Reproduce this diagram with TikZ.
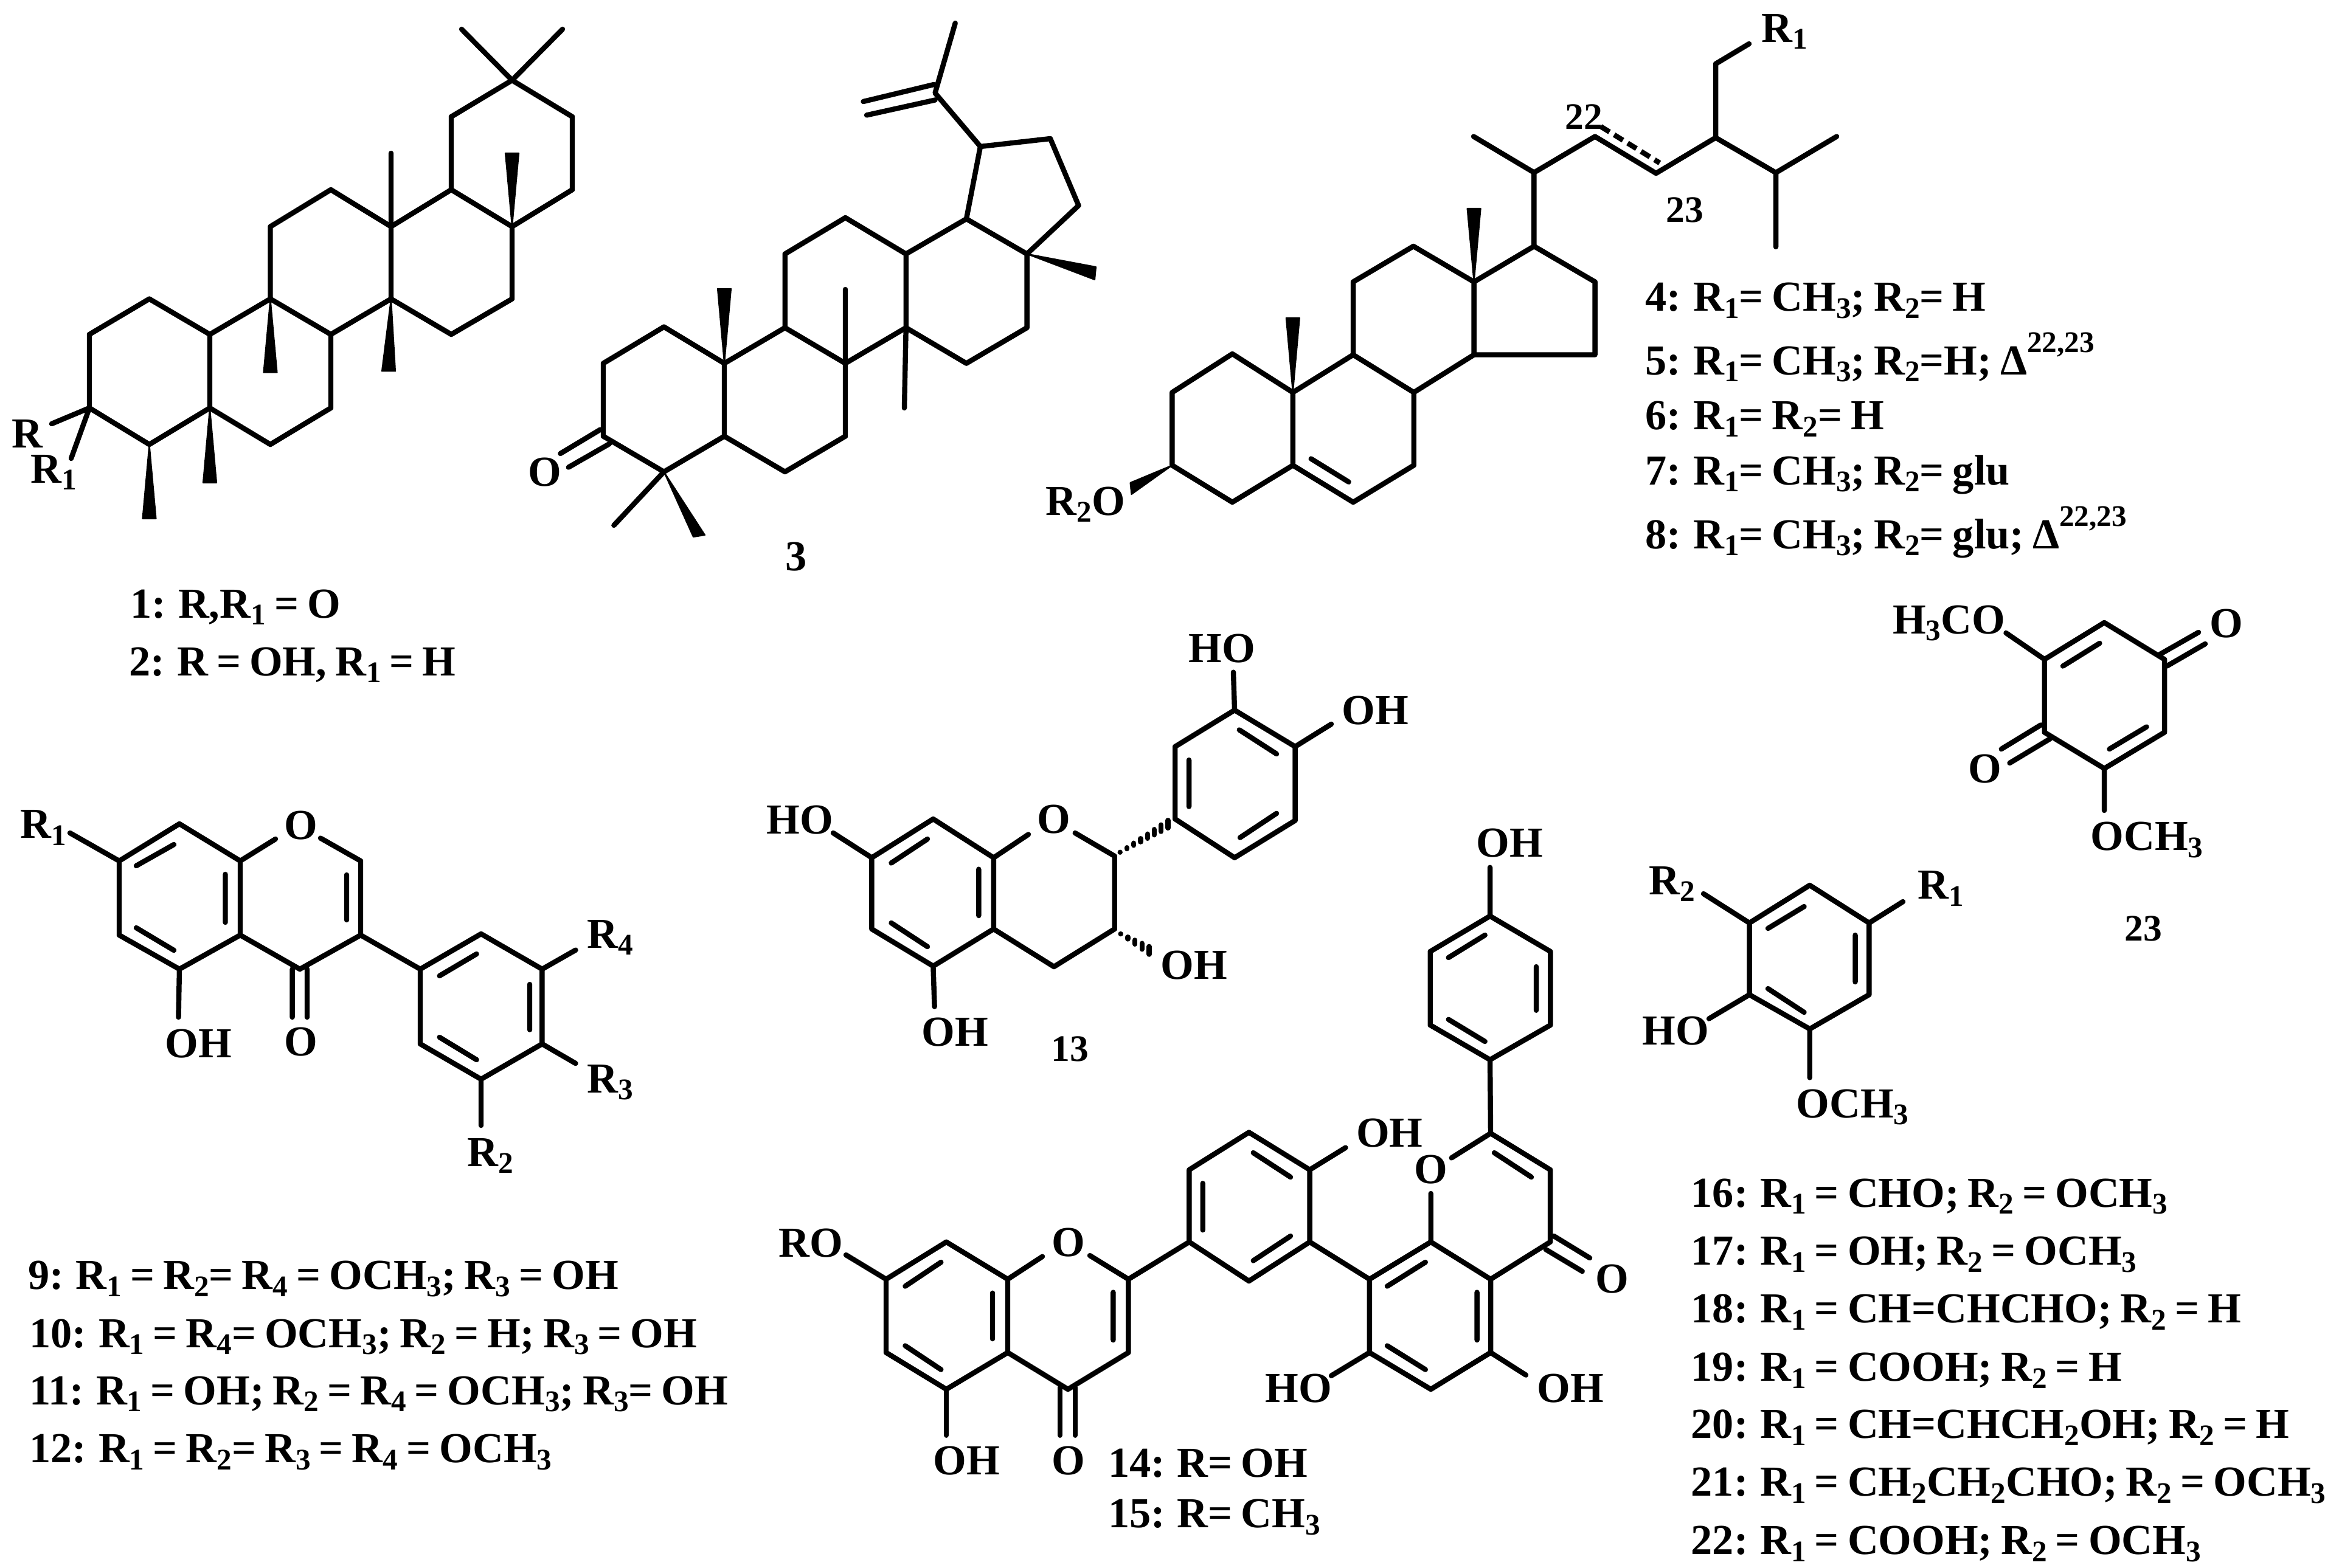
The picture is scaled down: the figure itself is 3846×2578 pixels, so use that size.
\documentclass[tikz,border=0pt]{standalone}
\usepackage{fontspec}
\setmainfont[WordSpace=0.8]{Liberation Serif}
\newcommand{\lo}[1]{\raisebox{-0.17em}{\fontsize{14}{14}\selectfont #1}}
\newcommand{\hi}[1]{\raisebox{0.52em}{\fontsize{14}{14}\selectfont #1}}
\tikzset{
	bond/.style={line width=2.4pt, line join=round, line cap=round},
	wedgeb/.style={fill=black, draw=black, line width=0.6pt, line join=round},
	lab/.style={inner sep=0pt, anchor=base west, font=\fontsize{20}{24}\selectfont\bfseries},
	atom/.style={inner sep=0pt, anchor=center, font=\fontsize{20}{24}\selectfont\bfseries},
	numb/.style={inner sep=0pt, anchor=base west, font=\fontsize{17.5}{20}\selectfont\bfseries}
}
\begin{document}
\begin{tikzpicture}[x=0.01cm, y=-0.01cm]
	\useasboundingbox (0,0) rectangle (3846,2578);
	\draw[bond] (147,671)--(147,550)--(245.5,491.6)--(345,550)--(345,671)--(245.5,731)--cycle;
	\draw[bond] (345,550)--(444.5,491.6)--(544,550)--(544,671)--(444.5,731)--(345,671);
	\draw[bond] (444.5,491.6)--(444.5,372.7)--(544,312)--(643,372.7)--(643,491.6)--(544,550);
	\draw[bond] (643,491.6)--(742,550)--(842,491.6)--(842,372.7)--(742,312)--(643,372.7);
	\draw[bond] (742,312)--(742,192)--(842,132)--(941,192)--(941,312)--(842,372.7);
	\draw[bond] (759,48)--(842,132)--(925,48) (643,372.7)--(643,252) (147,671)--(85,697) (147,671)--(117,754);
	\foreach \tx/\ty/\bx/\by in {842/372.7/842/252, 444.5/491.6/444.5/612.6, 643/491.6/639/610.4, 345/671/345/794, 245.5/731/245.5/853}
		\fill[wedgeb] (\tx,\ty)--(\bx-11,\by)--(\bx+11,\by)--cycle;
	\node[lab] (rA) at (19,736) {R};
	\node[lab] (rB) at (50,794) {R\lo{1}};
	\node[lab] (nA) at (214,1016) {1: R,R\lo{1} = O};
	\node[lab] (nB) at (212,1111) {2: R = OH, R\lo{1} = H};

	\draw[bond] (992,597.6)--(992,717.5)--(1091.7,776)--(1191,717.5)--(1191,597.6)--(1091.7,537.6)--cycle;
	\draw[bond] (1191,597.6)--(1290.7,539)--(1390,597.6)--(1390,717.5)--(1290.7,776)--(1191,717.5);
	\draw[bond] (1290.7,539)--(1290.7,417.7)--(1390,358)--(1489.7,417.7)--(1489.7,539)--(1390,597.6);
	\draw[bond] (1489.7,539)--(1589,597.6)--(1688.6,539)--(1688.6,417.7)--(1589,360)--(1489.7,417.7);
	\draw[bond] (1589,360)--(1612,241)--(1727,228)--(1773.5,338)--(1688.6,417.7);
	\draw[bond] (1612,241)--(1537.5,153)--(1570.7,38) (1535.6,139)--(1419.5,167) (1537.5,164.5)--(1425,189.4);
	\draw[bond] (1390,597.6)--(1390,476) (1489.7,539)--(1487,671) (1091.7,776)--(1009.4,864);
	\draw[bond] (987,706.6)--(921.4,746) (1002,730)--(934.8,768.5);
	\fill[wedgeb] (1191,597.6)--(1180,475)--(1202,475)--cycle;
	\fill[wedgeb] (1688.6,417.7)--(1802,439)--(1800,460)--cycle;
	\fill[wedgeb] (1091.7,776)--(1140,883)--(1159,880)--cycle;
	\node[atom] (oC) at (896,777) {O};
	\node[atom] (nC) at (1309,916) {3};

	\draw[bond] (1927.4,645.4)--(1927.4,765.3)--(2026.3,826)--(2125.8,765.3)--(2125.8,645.4)--(2026.3,582)--cycle;
	\draw[bond] (2125.8,645.4)--(2225,583.5)--(2324.7,645.4)--(2324.7,765.3)--(2225,826)--(2125.8,765.3);
	\draw[bond] (2155.7,754.5)--(2217.6,792.7);
	\draw[bond] (2225,583.5)--(2225,463.6)--(2324,405)--(2423.6,463.6)--(2423.6,583.5)--(2324.7,645.4);
	\draw[bond] (2423.6,463.6)--(2522.4,405)--(2622.6,463.6)--(2622.6,583.5)--(2423.6,583.5);
	\draw[bond] (2522.4,405)--(2522.4,283.8)--(2423,224.5) (2522.4,283.8)--(2622.6,224.5)--(2723,285)--(2821,226.4)--(2821,105)--(2876,72);
	\draw[bond] (2821,226.4)--(2920,284)--(3020,224.5) (2920,284)--(2920,406);
	\draw[line width=2.4pt, dash pattern=on 0.17cm off 0.09cm] (2632,208)--(2729,268);
	\fill[wedgeb] (2423.6,463.6)--(2412.6,343)--(2434.6,343)--cycle;
	\fill[wedgeb] (2125.8,645.4)--(2114.8,523)--(2136.8,523)--cycle;
	\fill[wedgeb] (1927.4,765.3)--(1858.5,794)--(1860.5,813)--cycle;
	\node[lab] (rC) at (1719,847) {R\lo{2}O};
	\node[numb] (nD) at (2573,212) {22};
	\node[numb] (nE) at (2739,365) {23};
	\node[lab] (rD) at (2896,69) {R\lo{1}};
	\foreach \n/\y/\t in {4/511.5/{4: R\lo{1}= CH\lo{3}; R\lo{2}= H},
		5/616/{5: R\lo{1}= CH\lo{3}; R\lo{2}=H; Δ\hi{22,23}},
		6/706.6/{6: R\lo{1}= R\lo{2}= H},
		7/797/{7: R\lo{1}= CH\lo{3}; R\lo{2}= glu},
		8/902/{8: R\lo{1}= CH\lo{3}; R\lo{2}= glu; Δ\hi{22,23}}}
		\node[lab] (st\n) at (2705,\y) {\t};

	\draw[bond] (115,1370)--(196,1416)--(196,1538)--(295,1594)--(395,1538)--(395,1416)--(295,1355)--(196,1416);
	\draw[bond] (224,1424)--(286,1389) (224,1526)--(286,1563) (370.5,1438)--(370.5,1517);
	\draw[bond] (395,1416)--(453,1380) (527,1378.5)--(593,1416)--(593,1538)--(493,1594)--(395,1538) (570,1439)--(570,1513);
	\draw[bond] (480.6,1594)--(480.6,1673) (505,1594)--(505,1673) (295,1594)--(293.5,1673);
	\draw[bond] (691,1594)--(791,1536)--(891.4,1594)--(891.4,1717)--(791,1775)--(691,1717)--cycle;
	\draw[bond] (593,1538)--(691,1594);
	\draw[bond] (722.7,1605)--(783.6,1569) (871,1619)--(871,1693.6) (722.7,1706)--(783.6,1743);
	\draw[bond] (891.4,1594)--(946.5,1562.6) (891.4,1717)--(946.5,1749) (791,1775)--(791,1851);
	\node[lab] (rE) at (33,1378.5) {R\lo{1}};
	\node[atom] (oE) at (495,1358) {O};
	\node[atom] (oF) at (495,1714) {O};
	\node[lab] (hE) at (271,1739) {OH};
	\node[lab] (rF) at (965,1559) {R\lo{4}};
	\node[lab] (rG) at (965,1797) {R\lo{3}};
	\node[lab] (rH) at (768,1918) {R\lo{2}};
	\foreach \n/\x/\y/\t in {9/45.5/2120.7/{9: R\lo{1} = R\lo{2}= R\lo{4} = OCH\lo{3}; R\lo{3} = OH},
		10/47.7/2216/{10: R\lo{1} = R\lo{4}= OCH\lo{3}; R\lo{2} = H; R\lo{3} = OH},
		11/47.7/2310/{11: R\lo{1} = OH; R\lo{2} = R\lo{4} = OCH\lo{3}; R\lo{3}= OH},
		12/47.7/2405/{12: R\lo{1} = R\lo{2}= R\lo{3} = R\lo{4} = OCH\lo{3}}}
		\node[lab] (is\n) at (\x,\y) {\t};

	\draw[bond] (1370,1370)--(1433.4,1410.7)--(1433.4,1528)--(1534.4,1589)--(1633.8,1528)--(1633.8,1410.7)--(1534.4,1347)--(1433.4,1410.7);
	\draw[bond] (1465.5,1419.4)--(1525,1380) (1465.5,1518)--(1525,1557) (1609.3,1429.6)--(1609.3,1506);
	\draw[bond] (1534.4,1589)--(1536.6,1655.6) (1633.8,1410.7)--(1691,1372.4);
	\draw[bond] (1767.7,1370)--(1832.7,1408)--(1832.7,1528)--(1733,1590)--(1633.8,1528);
	\draw[bond] (1932.2,1347)--(1932.2,1228)--(2030,1168)--(2129.6,1228)--(2129.6,1349.5)--(2030,1410.7)--cycle;
	\draw[bond] (1955,1250)--(1955,1326.5) (2037.8,1200.5)--(2099,1240) (2039,1377.6)--(2099,1337.8);
	\draw[bond] (2030,1168)--(2028,1105.6) (2129.6,1228)--(2189,1191);
	\foreach \k in {0,...,7}
		\draw[bond] (1841.7+11.25*\k,1401.7-6.6*\k-0.9*\k)--(1841.7+11.25*\k,1401.7-6.6*\k+0.9*\k);
	\foreach \k in {0,...,4}
		\draw[bond] (1842.7+11.7*\k,1536+6.8*\k-1.6*\k)--(1842.7+11.7*\k,1536+6.8*\k+1.6*\k);
	\node[lab] (hF) at (1259.7,1371) {HO};
	\node[lab] (hG) at (1515,1720) {OH};
	\node[atom] (oG) at (1733,1348) {O};
	\node[lab] (hH) at (1907.7,1610) {OH};
	\node[lab] (hI) at (1953.6,1089) {HO};
	\node[lab] (hJ) at (2206,1191) {OH};
	\node[numb] (nF) at (1728,1745) {13};

	\draw[bond] (1391,2064)--(1457,2104)--(1457,2224.6)--(1556,2285)--(1657,2224.6)--(1657,2104)--(1556,2042.7)--(1457,2104);
	\draw[bond] (1488.4,2115.5)--(1547.3,2076) (1488.4,2213.4)--(1547.3,2252.6) (1632,2126.7)--(1632,2202);
	\draw[bond] (1657,2104)--(1714,2066.7) (1792,2065)--(1855.4,2104)--(1855.4,2224.6)--(1756,2285)--(1657,2224.6) (1830.4,2125.5)--(1830.4,2204);
	\draw[bond] (1743,2282)--(1743,2360.7) (1768,2282)--(1768,2360.7) (1556,2285)--(1556,2360.7);
	\draw[bond] (1855.4,2104)--(1955.4,2042.7)--(1955.4,1924)--(2053.6,1862.4)--(2153.6,1924)--(2153.6,2042.7)--(2053.6,2107)--(1955.4,2042.7);
	\draw[bond] (1977.7,1946.4)--(1977.7,2023) (2060.7,1896)--(2122,1936) (2060.7,2073.5)--(2122,2033);
	\draw[bond] (2153.6,1924)--(2212.5,1887.6) (2153.6,2042.7)--(2251.8,2104);
	\draw[bond] (2251.8,2104)--(2352.7,2042.7)--(2451,2104)--(2451,2224.6)--(2352.7,2285)--(2251.8,2224.6)--cycle;
	\draw[bond] (2281,2115.5)--(2343.8,2076) (2428.6,2125.5)--(2428.6,2204) (2281,2213.4)--(2343.8,2252.6);
	\draw[bond] (2352.7,2042.7)--(2352.7,1963) (2251.8,2224.6)--(2189,2262.7) (2451,2224.6)--(2509,2261.6);
	\draw[bond] (2386.7,1904.4)--(2451,1864)--(2549,1924)--(2549,2042.7)--(2451,2104) (2457,1896)--(2518,1936);
	\draw[bond] (2555,2033)--(2614,2069) (2541.7,2055)--(2601.7,2091) (2451,1864)--(2450,1743);
	\draw[bond] (2450,1506.7)--(2351.7,1565)--(2351.7,1686)--(2450,1743)--(2549.3,1686)--(2549.3,1565)--cycle;
	\draw[bond] (2381.7,1575)--(2441.7,1538) (2526,1590)--(2526,1661.7) (2381.7,1676.7)--(2441.7,1713) (2450,1506.7)--(2450,1426.7);
	\node[lab] (rI) at (1279.5,2067) {RO};
	\node[atom] (oH) at (1757,2044) {O};
	\node[atom] (oI) at (1757,2402.7) {O};
	\node[lab] (hK) at (1534,2425) {OH};
	\node[lab] (hL) at (2229.5,1886.5) {OH};
	\node[atom] (oJ) at (2352.7,1924) {O};
	\node[lab] (hM) at (2080,2306.4) {HO};
	\node[lab] (hN) at (2526.8,2306) {OH};
	\node[atom] (oK) at (2650.7,2104) {O};
	\node[lab] (hO) at (2426.7,1409) {OH};
	\node[lab] (nG) at (1821.4,2429.6) {14: R= OH};
	\node[lab] (nH) at (1821.4,2512) {15: R= CH\lo{3}};

	\draw[bond] (3361.7,1084.5)--(3460,1024)--(3559,1084.5)--(3559,1204.5)--(3460,1264)--(3361.7,1204.5)--cycle;
	\draw[bond] (3392,1095.5)--(3452.4,1058) (3468.5,1232)--(3529.5,1195.5) (3361.7,1084.5)--(3298.4,1041) (3460,1264)--(3460,1333);
	\draw[bond] (3550,1077)--(3615,1040) (3563,1095.5)--(3626,1059) (3355.6,1192.4)--(3290.7,1232) (3371,1215)--(3304.5,1255);
	\node[lab] (mA) at (3111.5,1042) {H\lo{3}CO};
	\node[atom] (oL) at (3660.7,1026) {O};
	\node[atom] (oM) at (3264,1265) {O};
	\node[lab] (mB) at (3437,1398.5) {OCH\lo{3}};
	\node[numb] (nI) at (3493,1547) {23};

	\draw[bond] (2876.5,1518)--(2975.7,1456)--(3073.3,1518)--(3073.3,1636)--(2975.7,1692.4)--(2876.5,1636)--cycle;
	\draw[bond] (2907,1527)--(2966.5,1491) (3050.5,1538)--(3050.5,1615) (2907,1626)--(2966.5,1665);
	\draw[bond] (2876.5,1518)--(2801,1470) (3073.3,1518)--(3129,1483) (2876.5,1636)--(2810,1675.5) (2975.7,1692.4)--(2975.7,1772.4);
	\node[lab] (rJ) at (2711,1471) {R\lo{2}};
	\node[lab] (rK) at (3153,1478.5) {R\lo{1}};
	\node[lab] (hP) at (2699.6,1718.5) {HO};
	\node[lab] (mC) at (2953,1838) {OCH\lo{3}};
	\foreach \n/\y/\t in {16/1985/{16: R\lo{1} = CHO; R\lo{2} = OCH\lo{3}},
		17/2080.5/{17: R\lo{1} = OH; R\lo{2} = OCH\lo{3}},
		18/2175.8/{18: R\lo{1} = CH=CHCHO; R\lo{2} = H},
		19/2271/{19: R\lo{1} = COOH; R\lo{2} = H},
		20/2365.4/{20: R\lo{1} = CH=CHCH\lo{2}OH; R\lo{2} = H},
		21/2460.6/{21: R\lo{1} = CH\lo{2}CH\lo{2}CHO; R\lo{2} = OCH\lo{3}},
		22/2556/{22: R\lo{1} = COOH; R\lo{2} = OCH\lo{3}}}
		\node[lab] (ph\n) at (2780,\y) {\t};
\end{tikzpicture}
\end{document}
